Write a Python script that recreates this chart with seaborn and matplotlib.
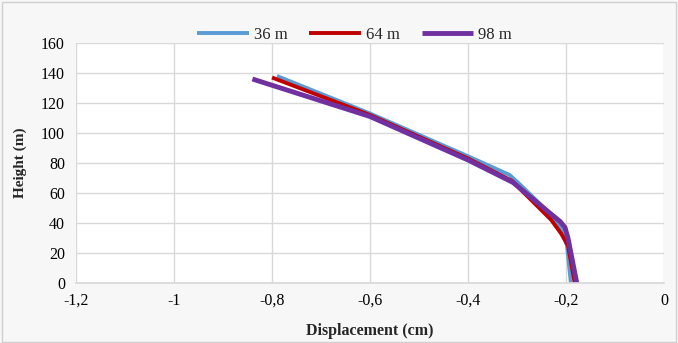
import matplotlib
matplotlib.use("Agg")
import matplotlib.pyplot as plt
import seaborn as sns
import pandas as pd
from matplotlib.patches import Rectangle

# Lateral displacement profiles along the height for three spans
series_names = ["36 m", "64 m", "98 m"]
height_36 = [0, 25, 36, 47, 66, 72, 84.5, 113, 138]
disp_36 = [-0.19, -0.198, -0.21, -0.235, -0.295, -0.315, -0.40, -0.60, -0.79]
height_64 = [0, 25, 33, 42, 68, 83, 112, 137]
disp_64 = [-0.182, -0.196, -0.21, -0.23, -0.31, -0.40, -0.60, -0.80]
height_98 = [0, 30, 37, 41, 45, 67, 82, 111, 136]
disp_98 = [-0.178, -0.196, -0.202, -0.212, -0.227, -0.308, -0.40, -0.60, -0.84]

x_ticks = [-1.2, -1.0, -0.8, -0.6, -0.4, -0.2, 0.0]
x_tick_labels = ["-1,2", "-1", "-0,8", "-0,6", "-0,4", "-0,2", "0"]
y_ticks = [0, 20, 40, 60, 80, 100, 120, 140, 160]

colors = {"36 m": "#5b9bd5", "64 m": "#c00000", "98 m": "#7030a0"}
widths = {"36 m": 2.8, "64 m": 2.8, "98 m": 3.5}

frames = []
for name, h, d in [("36 m", height_36, disp_36),
                   ("64 m", height_64, disp_64),
                   ("98 m", height_98, disp_98)]:
    frames.append(pd.DataFrame({"Displacement": d, "Height": h, "Case": name}))
df = pd.concat(frames, ignore_index=True)

sns.set_theme(style="white")
plt.rcParams["font.family"] = ["Liberation Serif", "DejaVu Serif"]

fig = plt.figure(figsize=(6.78, 3.43), dpi=100, facecolor="#f7f7f7")
ax = fig.add_axes([76 / 678, 1 - 283 / 343, 588 / 678, 240 / 343])
ax.set_facecolor("white")

for name in series_names:
    sub = df[df["Case"] == name]
    sns.lineplot(data=sub, x="Displacement", y="Height", sort=False,
                 color=colors[name], linewidth=widths[name], label=name,
                 ax=ax, solid_capstyle="butt", solid_joinstyle="round",
                 estimator=None)

ax.set_xlim(-1.2, 0)
ax.set_ylim(0, 160)
ax.set_xticks(x_ticks)
ax.set_xticklabels(x_tick_labels)
ax.set_yticks(y_ticks)
ax.grid(True, color="#d9d9d9", linewidth=1.0)
ax.tick_params(axis="both", labelsize=11.5, colors="black", length=0)
ax.tick_params(axis="x", pad=7)
ax.tick_params(axis="y", pad=8)
for s in ax.spines.values():
    s.set_visible(False)
ax.spines["bottom"].set_visible(True)
ax.spines["bottom"].set_color("#d9d9d9")

ax.set_xlabel("Displacement (cm)", fontsize=11.5, fontweight="bold", labelpad=10)
ax.set_ylabel("Height (m)", fontsize=11, fontweight="bold", labelpad=10)

ax.legend(loc="center", bbox_to_anchor=(0.474, 1.035), ncol=3,
          frameon=False, fontsize=12, handlelength=3.1, columnspacing=1.3,
          handletextpad=0.3, borderaxespad=0, borderpad=0)

fig.patches.append(Rectangle((0.003, 0.004), 0.994, 0.99, transform=fig.transFigure,
                             fill=False, edgecolor="#d0d0d0", linewidth=1.0))

fig.savefig("out.png", dpi=100, facecolor=fig.get_facecolor())
